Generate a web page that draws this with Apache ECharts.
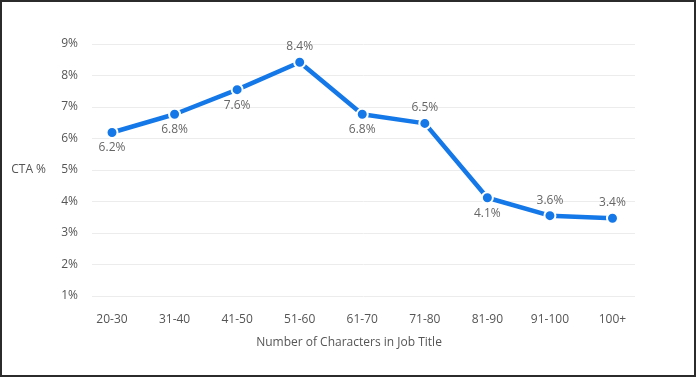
<!DOCTYPE html>
<html>
<head>
<meta charset="utf-8">
<script src="https://cdn.jsdelivr.net/npm/echarts@6/dist/echarts.min.js"></script>
<style>
  html, body { margin: 0; padding: 0; background: #fff; }
  #chart { width: 696px; height: 377px; position: absolute; left: 0; top: 0; }
  #frame { position: absolute; left: 0; top: 0; width: 696px; height: 377px; box-sizing: border-box;
           border: 2px solid #2b2b2b; pointer-events: none; }
</style>
</head>
<body>
<div id="chart"></div>
<div id="frame"></div>
<script>
// chart data
var categories = ['20-30', '31-40', '41-50', '51-60', '61-70', '71-80', '81-90', '91-100', '100+'];
var ctaValues = [6.19, 6.77, 7.55, 8.42, 6.77, 6.48, 4.12, 3.55, 3.47];
var ctaLabels = ['6.2%', '6.8%', '7.6%', '8.4%', '6.8%', '6.5%', '4.1%', '3.6%', '3.4%'];
var labelPos = ['bottom', 'bottom', 'bottom', 'top', 'bottom', 'top', 'bottom', 'top', 'top'];

var font = '"Open Sans", "Noto Sans", sans-serif';

var points = ctaValues.map(function (v, i) {
    return {
        value: [i, v],
        label: { position: labelPos[i] }
    };
});

var myChart = echarts.init(document.getElementById('chart'));
myChart.setOption({
    backgroundColor: '#fff',
    animation: false,
    grid: { left: 92, right: 61, top: 44, bottom: 81 },
    xAxis: {
        type: 'value',
        min: -0.32,
        max: 8.36,
        name: 'Number of Characters in Job Title',
        nameLocation: 'middle',
        nameGap: 41,
        nameTextStyle: { color: '#555', fontSize: 12, fontFamily: font, padding: [0, 29, 0, 0] },
        axisLine: { show: false },
        axisTick: { show: false },
        splitLine: { show: false },
        axisLabel: {
            customValues: categories.map(function (c, i) { return i; }),
            formatter: function (v) { return categories[Math.round(v)]; },
            color: '#555',
            fontSize: 12,
            fontFamily: font,
            margin: 18
        }
    },
    yAxis: {
        type: 'value',
        min: 1,
        max: 9,
        interval: 1,
        name: 'CTA %',
        nameLocation: 'middle',
        nameRotate: 0,
        nameGap: 46,
        nameTextStyle: { color: '#555', fontSize: 12, fontFamily: font, align: 'right' },
        axisLine: { show: false },
        axisTick: { show: false },
        axisLabel: {
            formatter: function (v) { return v + '%'; },
            color: '#555',
            fontSize: 12,
            fontFamily: font,
            margin: 14
        },
        splitLine: { lineStyle: { color: '#ececec', width: 1 } }
    },
    series: [
        {
            type: 'line',
            data: points,
            symbol: 'circle',
            symbolSize: 11,
            lineStyle: { color: '#1578e8', width: 4.5 },
            itemStyle: { color: '#1578e8', borderColor: '#fff', borderWidth: 2 },
            label: {
                show: true,
                formatter: function (p) { return ctaLabels[p.dataIndex]; },
                color: '#666',
                fontSize: 12,
                fontFamily: font,
                distance: 3
            }
        }
    ]
});
</script>
</body>
</html>
